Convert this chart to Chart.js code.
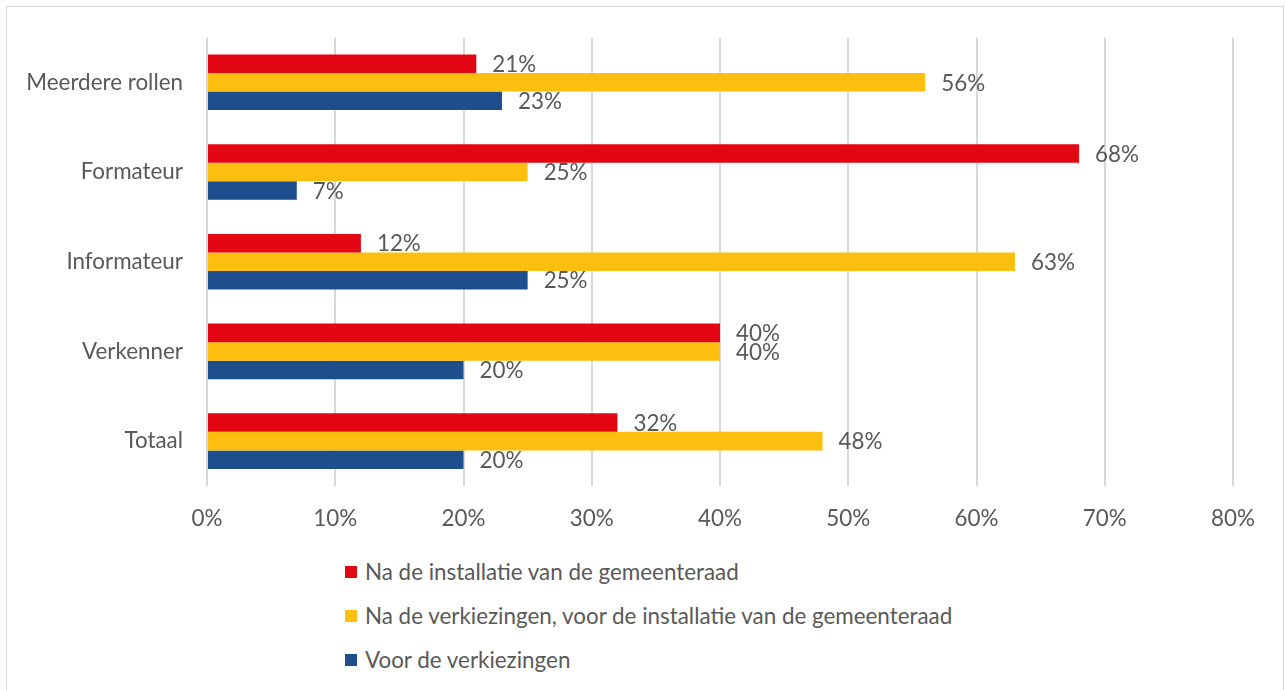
<!DOCTYPE html>
<html lang="nl">
<head>
    <meta charset="UTF-8">
    <script src="https://cdn.jsdelivr.net/npm/chart.js"></script>
    <title>Rollen</title>
</head>
<style>
    body { margin: 0; background: #ffffff; }
    .Frame {
        position: absolute;
        left: 6px; top: 6px;
        width: 1276px; height: 700px;
        border: 1px solid #d9d9d9;
    }
    .ChartBox {
        position: absolute;
        left: 0; top: 0;
        width: 1285px; height: 545px;
    }
    .Legend {
        position: absolute;
        left: 345px; top: 559px;
        font-family: Lato, sans-serif;
        font-size: 22.4px;
        line-height: 26px;
        color: #595959;
    }
    .Legend div { height: 44px; display: flex; align-items: flex-start; }
    .Legend span.box {
        display: inline-block;
        width: 12px; height: 12px;
        margin-top: 7px; margin-right: 8px;
    }
</style>
<body>
    <div class="Frame"></div>
    <div class="ChartBox"><canvas id="chart"></canvas></div>
    <div class="Legend" id="legend"></div>
</body>
<script>
    const categories = ['Meerdere rollen', 'Formateur', 'Informateur', 'Verkenner', 'Totaal'];
    const seriesNames = [
        'Na de installatie van de gemeenteraad',
        'Na de verkiezingen, voor de installatie van de gemeenteraad',
        'Voor de verkiezingen'
    ];
    const naInstallatie = [21, 68, 12, 40, 32];
    const naVerkiezingen = [56, 25, 63, 40, 48];
    const voorVerkiezingen = [23, 7, 25, 20, 20];
    const colors = ['#e30613', '#fcbf10', '#1f4e8f'];

    const textColor = '#595959';
    const fontFamily = 'Lato, sans-serif';
    const fontSize = 22.4;

    // value labels next to each bar end
    const barLabels = {
        id: 'barLabels',
        afterDatasetsDraw(chart) {
            const ctx = chart.ctx;
            ctx.save();
            ctx.font = fontSize + 'px ' + fontFamily;
            ctx.fillStyle = textColor;
            ctx.textAlign = 'left';
            ctx.textBaseline = 'middle';
            chart.data.datasets.forEach((ds, i) => {
                chart.getDatasetMeta(i).data.forEach((bar, j) => {
                    ctx.fillText(ds.data[j] + '%', bar.x + 16, bar.y + 1);
                });
            });
            ctx.restore();
        }
    };

    const seriesData = [naInstallatie, naVerkiezingen, voorVerkiezingen];

    var chart = new Chart(document.getElementById('chart').getContext('2d'), {
        type: 'bar',
        data: {
            labels: categories,
            datasets: seriesData.map((d, i) => ({
                label: seriesNames[i],
                data: d,
                backgroundColor: colors[i],
                borderWidth: 0,
                categoryPercentage: 0.62,
                barPercentage: 1.0
            }))
        },
        options: {
            indexAxis: 'y',
            responsive: true,
            maintainAspectRatio: false,
            animation: false,
            layout: { padding: { top: 36, right: 52, left: 0, bottom: 0 } },
            plugins: {
                legend: { display: false },
                tooltip: { enabled: false }
            },
            scales: {
                x: {
                    min: 0,
                    max: 80,
                    ticks: {
                        stepSize: 10,
                        color: textColor,
                        font: { family: fontFamily, size: fontSize },
                        padding: 19,
                        callback: v => v + '%'
                    },
                    grid: { color: '#d9d9d9', lineWidth: 2, drawTicks: false },
                    border: { display: false },
                    afterFit: s => { s.height = 59; }
                },
                y: {
                    ticks: {
                        color: textColor,
                        font: { family: fontFamily, size: fontSize },
                        padding: 24
                    },
                    grid: { display: false, drawTicks: false },
                    border: { display: false },
                    afterFit: s => { s.width = 207; }
                }
            }
        },
        plugins: [barLabels]
    });

    // legend as html list
    var legend = document.getElementById('legend');
    seriesNames.forEach((name, i) => {
        var row = document.createElement('div');
        row.innerHTML = '<span class="box" style="background:' + colors[i] + '"></span>' + name;
        legend.appendChild(row);
    });
</script>
</html>
